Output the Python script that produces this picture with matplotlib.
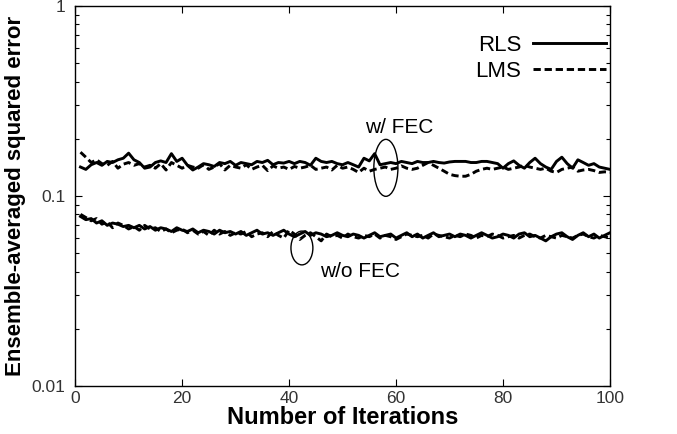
import numpy as np
import matplotlib
matplotlib.use('Agg')
import matplotlib.pyplot as plt
from matplotlib.patches import Ellipse
from matplotlib.ticker import LogLocator, NullFormatter, FixedLocator

plt.rcParams['font.family'] = ['Liberation Sans', 'DejaVu Sans']

iterations = np.arange(1, 101)

# with FEC
rls_fec = [0.142, 0.138, 0.146, 0.150, 0.145, 0.152, 0.150, 0.155, 0.158, 0.168,
           0.155, 0.150, 0.140, 0.142, 0.150, 0.153, 0.150, 0.167, 0.152, 0.158,
           0.145, 0.137, 0.142, 0.148, 0.146, 0.143, 0.150, 0.148, 0.152, 0.145,
           0.150, 0.148, 0.146, 0.152, 0.150, 0.154, 0.146, 0.150, 0.149, 0.152,
           0.148, 0.152, 0.150, 0.145, 0.158, 0.152, 0.150, 0.152, 0.148, 0.146,
           0.150, 0.146, 0.142, 0.158, 0.153, 0.167, 0.146, 0.148, 0.150, 0.148,
           0.152, 0.150, 0.148, 0.152, 0.150, 0.150, 0.152, 0.150, 0.149, 0.151,
           0.152, 0.152, 0.152, 0.150, 0.150, 0.152, 0.152, 0.150, 0.148, 0.140,
           0.148, 0.153, 0.145, 0.140, 0.150, 0.158, 0.148, 0.142, 0.138, 0.152,
           0.160, 0.148, 0.140, 0.155, 0.150, 0.145, 0.148, 0.142, 0.140, 0.138]
lms_fec = [0.170, 0.160, 0.150, 0.155, 0.148, 0.145, 0.152, 0.140, 0.147, 0.150,
           0.145, 0.148, 0.142, 0.145, 0.140, 0.148, 0.137, 0.150, 0.145, 0.140,
           0.145, 0.142, 0.140, 0.146, 0.138, 0.142, 0.148, 0.137, 0.145, 0.142,
           0.140, 0.146, 0.138, 0.142, 0.145, 0.136, 0.144, 0.140, 0.142, 0.138,
           0.143, 0.140, 0.142, 0.145, 0.138, 0.140, 0.142, 0.137, 0.145, 0.140,
           0.142, 0.138, 0.133, 0.140, 0.135, 0.138, 0.140, 0.142, 0.138, 0.140,
           0.144, 0.140, 0.138, 0.140, 0.145, 0.150, 0.145, 0.140, 0.135, 0.130,
           0.128, 0.127, 0.127, 0.130, 0.135, 0.138, 0.140, 0.138, 0.140, 0.142,
           0.138, 0.140, 0.142, 0.145, 0.142, 0.140, 0.138, 0.140, 0.135, 0.133,
           0.138, 0.140, 0.142, 0.135, 0.137, 0.138, 0.136, 0.133, 0.134, 0.133]

# without FEC
rls_nofec = [0.078, 0.075, 0.076, 0.072, 0.074, 0.070, 0.072, 0.071, 0.069, 0.070,
             0.068, 0.070, 0.067, 0.069, 0.066, 0.068, 0.067, 0.065, 0.068, 0.066,
             0.065, 0.067, 0.064, 0.066, 0.065, 0.063, 0.066, 0.064, 0.065, 0.063,
             0.065, 0.062, 0.064, 0.066, 0.063, 0.064, 0.062, 0.064, 0.066, 0.063,
             0.061, 0.063, 0.065, 0.062, 0.064, 0.063, 0.061, 0.062, 0.064, 0.062,
             0.061, 0.063, 0.062, 0.060, 0.062, 0.064, 0.061, 0.062, 0.063, 0.060,
             0.062, 0.064, 0.061, 0.063, 0.060, 0.062, 0.064, 0.061, 0.062, 0.063,
             0.061, 0.063, 0.062, 0.060, 0.062, 0.064, 0.062, 0.060, 0.061, 0.063,
             0.062, 0.060, 0.063, 0.064, 0.061, 0.062, 0.060, 0.058, 0.061, 0.063,
             0.064, 0.061, 0.059, 0.062, 0.064, 0.061, 0.063, 0.060, 0.062, 0.064]
lms_nofec = [0.080, 0.077, 0.074, 0.076, 0.071, 0.073, 0.068, 0.072, 0.070, 0.067,
             0.069, 0.066, 0.070, 0.067, 0.068, 0.065, 0.067, 0.064, 0.066, 0.067,
             0.064, 0.066, 0.063, 0.065, 0.062, 0.066, 0.063, 0.065, 0.062, 0.064,
             0.063, 0.065, 0.061, 0.063, 0.064, 0.061, 0.065, 0.062, 0.060, 0.066,
             0.063, 0.059, 0.062, 0.064, 0.061, 0.058, 0.063, 0.061, 0.062, 0.060,
             0.063, 0.061, 0.060, 0.062, 0.061, 0.063, 0.060, 0.062, 0.061, 0.059,
             0.061, 0.063, 0.062, 0.061, 0.062, 0.060, 0.063, 0.062, 0.061, 0.060,
             0.062, 0.061, 0.063, 0.062, 0.060, 0.062, 0.061, 0.063, 0.062, 0.060,
             0.061, 0.062, 0.060, 0.062, 0.063, 0.061, 0.060, 0.062, 0.061, 0.060,
             0.062, 0.061, 0.060, 0.062, 0.063, 0.061, 0.060, 0.062, 0.061, 0.060]

x_ticks = [0, 20, 40, 60, 80, 100]
y_ticks = [0.01, 0.1, 1]
y_tick_labels = ['0.01', '0.1', '1']

fig = plt.figure(figsize=(6.77, 4.34), dpi=100)
ax = fig.add_axes([0.111, 0.111, 0.79, 0.875])

dash = (0, (2.5, 1.3))
ax.plot(iterations, rls_fec, '-', color='black', lw=2.1, label='RLS')
ax.plot(iterations, lms_fec, color='black', lw=2.1, linestyle=dash, label='LMS')
ax.plot(iterations, rls_nofec, '-', color='black', lw=2.1)
ax.plot(iterations, lms_nofec, color='black', lw=2.1, linestyle=dash)

ax.set_yscale('log')
ax.set_xlim(0, 100)
ax.set_ylim(0.01, 1)
ax.xaxis.set_major_locator(FixedLocator(x_ticks))
ax.yaxis.set_major_locator(FixedLocator(y_ticks))
ax.set_yticklabels(y_tick_labels)
ax.yaxis.set_minor_locator(LogLocator(base=10, subs=np.arange(2, 10)))
ax.yaxis.set_minor_formatter(NullFormatter())
ax.tick_params(which='both', direction='in', top=True, right=True,
               labelsize=12.5, labelcolor='#333333', width=0.8)
ax.tick_params(axis='y', pad=7)
ax.tick_params(which='major', length=5)
ax.tick_params(which='minor', length=3)
for s in ax.spines.values():
    s.set_linewidth(1.0)

ax.set_xlabel('Number of Iterations', fontsize=17, fontweight='bold', labelpad=0)
ax.set_ylabel('Ensemble-averaged squared error', fontsize=16, fontweight='bold', labelpad=4)

leg = ax.legend(loc='upper right', bbox_to_anchor=(1.009, 0.947), frameon=False,
                markerfirst=False, handlelength=3.3, fontsize=16,
                labelspacing=0.2, handletextpad=0.5, borderaxespad=0.0)

# grouping ellipses
ax.add_patch(Ellipse((0.581, 0.574), 0.045, 0.150, transform=ax.transAxes,
                     fill=False, lw=1.0, color='black'))
ax.add_patch(Ellipse((0.424, 0.363), 0.041, 0.089, transform=ax.transAxes,
                     fill=False, lw=1.0, color='black'))
ax.text(0.605, 0.68, 'w/ FEC', transform=ax.transAxes, fontsize=15,
        ha='center', va='center')
ax.text(0.458, 0.30, 'w/o FEC', transform=ax.transAxes, fontsize=15,
        ha='left', va='center')

fig.savefig('out.png', dpi=100)
